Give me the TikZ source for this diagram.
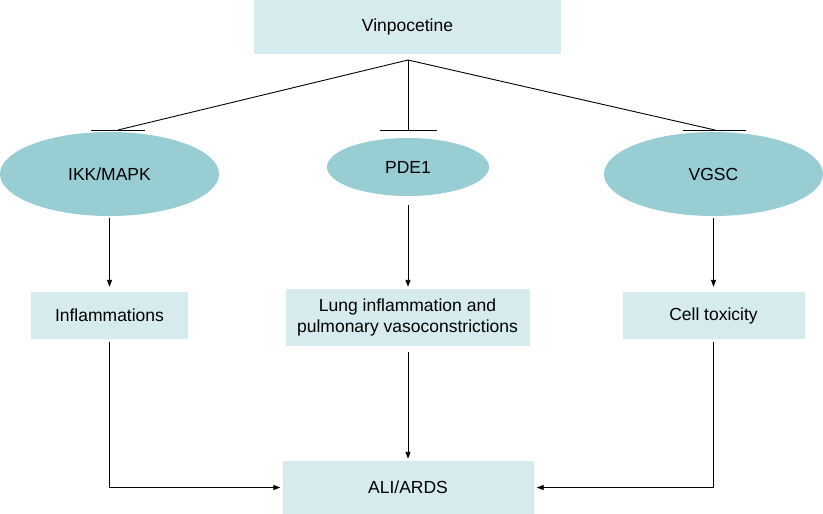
\documentclass[tikz,border=0pt]{standalone}
\usepackage{fontspec}
\setmainfont{Liberation Sans}
\usetikzlibrary{arrows.meta,shapes.geometric,calc}
\definecolor{boxfill}{HTML}{D6EBEE}
\definecolor{ellfill}{HTML}{97CDD3}
\begin{document}
\begin{tikzpicture}[x=1pt,y=-1pt,
  every node/.style={font=\fontsize{17.5}{21}\selectfont, inner sep=0pt, text=black},
  boxnode/.style={rectangle, fill=boxfill, draw=none, align=center},
  ellnode/.style={ellipse, fill=ellfill, draw=none},
  conn/.style={line width=0.9pt, black},
  arr/.style={conn, -{Triangle[length=7pt,width=5pt]}}
]
\useasboundingbox (0,0) rectangle (823,514);
\node[boxnode, minimum width=307pt, minimum height=54pt] (vin) at (407.5,27) {Vinpocetine};
\node[ellnode, minimum width=219pt, minimum height=84pt] (ikk) at (109.5,174) {IKK/MAPK};
\node[ellnode, minimum width=162pt, minimum height=58pt] (pde) at (408,167) {PDE1};
\node[ellnode, minimum width=219pt, minimum height=84pt] (vgsc) at (713.5,174) {VGSC};
\node[boxnode, minimum width=157pt, minimum height=47pt] (infl) at (109.5,315.5) {Inflammations};
\node[boxnode, minimum width=244pt, minimum height=57pt] (lung) at (407.5,317.5) {Lung inflammation and\\pulmonary vasoconstrictions};
\node[boxnode, minimum width=182pt, minimum height=47pt] (cell) at (713.5,315.5) {Cell toxicity};
\node[boxnode, minimum width=251pt, minimum height=53pt] (ali) at (408,487.5) {ALI/ARDS};
\coordinate (J) at (408,60);
\coordinate (tL) at (118,130);
\coordinate (tM) at (408,130);
\coordinate (tR) at (715,130);
\draw[conn] (J) -- (tL);
\draw[conn] (J) -- (tM);
\draw[conn] (J) -- (tR);
\draw[conn] ($(tL)+(-27,0)$) -- ($(tL)+(27,0)$);
\draw[conn] ($(tM)+(-28.5,0)$) -- ($(tM)+(28.5,0)$);
\draw[conn] ($(tR)+(-32,0)$) -- ($(tR)+(31,0)$);
\draw[arr] ([yshift=-2pt]ikk.south) -- ([yshift=5pt]ikk.south |- infl.north);
\draw[arr] ([yshift=-9pt]pde.south) -- ([yshift=2pt]pde.south |- lung.north);
\draw[arr] ([yshift=-2pt]vgsc.south) -- ([yshift=5pt]vgsc.south |- cell.north);
\draw[arr] ([yshift=-3pt]infl.south) |- ([xshift=-2pt]ali.west);
\draw[arr] ([yshift=-6pt]pde.south |- lung.south) -- ([yshift=2pt]pde.south |- ali.north);
\draw[arr] ([yshift=-3pt]cell.south) |- ([xshift=3pt]ali.east);
\end{tikzpicture}
\end{document}
